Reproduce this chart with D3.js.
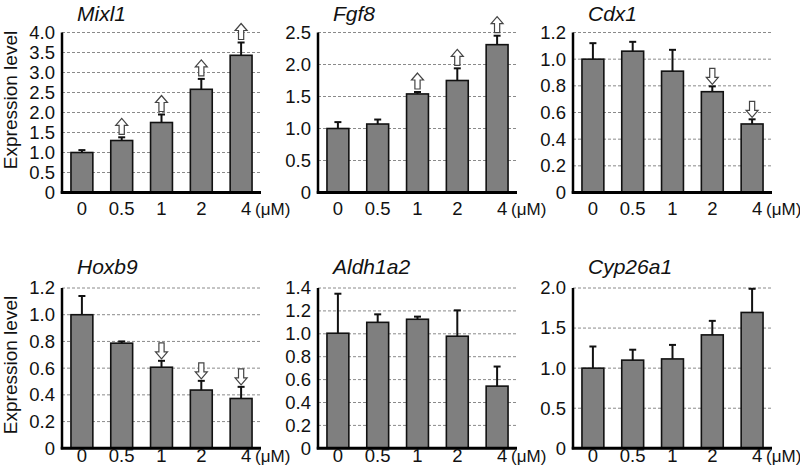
<!DOCTYPE html>
<html>
<head>
<meta charset="utf-8">
<script src="https://cdn.jsdelivr.net/npm/d3@7"></script>
<style>
  body { margin: 0; background: #fff; }
  svg { font-family: Arial, "Liberation Sans", sans-serif; }
</style>
</head>
<body>
<svg width="800" height="474"></svg>
<script>
// doses (uM)
const doses = ["0", "0.5", "1", "2", "4"];

// mean expression + upper error
const mixl1 = [1.00, 1.30, 1.75, 2.58, 3.43];
const mixl1Err = [0.06, 0.08, 0.20, 0.26, 0.32];
const fgf8 = [1.00, 1.07, 1.54, 1.75, 2.31];
const fgf8Err = [0.10, 0.07, 0.03, 0.19, 0.14];
const cdx1 = [1.00, 1.06, 0.91, 0.756, 0.514];
const cdx1Err = [0.12, 0.07, 0.16, 0.04, 0.035];
const hoxb9 = [1.00, 0.787, 0.607, 0.436, 0.373];
const hoxb9Err = [0.14, 0.013, 0.048, 0.069, 0.087];
const aldh1a2 = [1.005, 1.10, 1.127, 0.979, 0.543];
const aldh1a2Err = [0.345, 0.07, 0.023, 0.226, 0.171];
const cyp26a1 = [1.00, 1.10, 1.115, 1.415, 1.695];
const cyp26a1Err = [0.27, 0.13, 0.175, 0.175, 0.295];

// significant changes: +1 up arrow, -1 down arrow, 0 none
const mixl1Arrows = [0, 1, 1, 1, 1];
const fgf8Arrows = [0, 0, 1, 1, 1];
const cdx1Arrows = [0, 0, 0, -1, -1];
const hoxb9Arrows = [0, 0, -1, -1, -1];
const aldh1a2Arrows = [0, 0, 0, 0, 0];
const cyp26a1Arrows = [0, 0, 0, 0, 0];

const yMaxes = [4.0, 2.5, 1.2, 1.2, 1.4, 2.0];
const ySteps = [0.5, 0.5, 0.2, 0.2, 0.2, 0.5];

const panels = [
  { title: "Mixl1", values: mixl1, err: mixl1Err, arrows: mixl1Arrows, col: 0, row: 0 },
  { title: "Fgf8", values: fgf8, err: fgf8Err, arrows: fgf8Arrows, col: 1, row: 0 },
  { title: "Cdx1", values: cdx1, err: cdx1Err, arrows: cdx1Arrows, col: 2, row: 0 },
  { title: "Hoxb9", values: hoxb9, err: hoxb9Err, arrows: hoxb9Arrows, col: 0, row: 1 },
  { title: "Aldh1a2", values: aldh1a2, err: aldh1a2Err, arrows: aldh1a2Arrows, col: 1, row: 1 },
  { title: "Cyp26a1", values: cyp26a1, err: cyp26a1Err, arrows: cyp26a1Arrows, col: 2, row: 1 }
];

const svg = d3.select("svg");

const colX = [62, 318, 573];
const plotW = 199;
const rows = [
  { top: 32.5, bottom: 192.5, titleY: 21, labelY: 215, ylabelY: 100 },
  { top: 288, bottom: 448.3, titleY: 274, labelY: 462, ylabelY: 365 }
];

// block arrow, tip at (0,0), pointing up
const arrowPath = "M0,0 L6,7 L2.6,7 L2.6,16 L-2.6,16 L-2.6,7 L-6,7 Z";

panels.forEach((p, pi) => {
  const ax = colX[p.col];
  const r = rows[p.row];

  const x = d3.scaleBand()
    .domain(doses)
    .range([ax, ax + plotW])
    .paddingInner(0.45)
    .paddingOuter(0.225);

  const y = d3.scaleLinear()
    .domain([0, yMaxes[pi]])
    .range([r.bottom, r.top]);

  const ticks = d3.range(0, yMaxes[pi] + 1e-9, ySteps[pi]);
  const g = svg.append("g");

  // dashed gridlines
  g.selectAll(".grid")
    .data(ticks.slice(1))
    .enter().append("line")
    .attr("x1", ax)
    .attr("x2", ax + plotW)
    .attr("y1", d => y(d))
    .attr("y2", d => y(d))
    .attr("stroke", "#8a8a8a")
    .attr("stroke-width", 1)
    .attr("stroke-dasharray", "3,2");

  // y axis
  const yAxis = g.append("g")
    .attr("transform", `translate(${ax},0)`)
    .call(d3.axisLeft(y)
      .tickValues(ticks)
      .tickSize(0)
      .tickPadding(7)
      .tickFormat(d => d === 0 ? "0" : d3.format(".1f")(d)));
  yAxis.select(".domain").remove();
  yAxis.selectAll("text")
    .style("font-size", "18.5px")
    .attr("fill", "#111");

  // error bars (upper only)
  g.selectAll(".err")
    .data(p.values)
    .enter().append("line")
    .attr("x1", (d, i) => x(doses[i]) + x.bandwidth() / 2)
    .attr("x2", (d, i) => x(doses[i]) + x.bandwidth() / 2)
    .attr("y1", d => y(d))
    .attr("y2", (d, i) => y(d + p.err[i]))
    .attr("stroke", "#111")
    .attr("stroke-width", 2);

  g.selectAll(".cap")
    .data(p.values)
    .enter().append("line")
    .attr("x1", (d, i) => x(doses[i]) + x.bandwidth() / 2 - 3.5)
    .attr("x2", (d, i) => x(doses[i]) + x.bandwidth() / 2 + 3.5)
    .attr("y1", (d, i) => y(d + p.err[i]))
    .attr("y2", (d, i) => y(d + p.err[i]))
    .attr("stroke", "#111")
    .attr("stroke-width", 2);

  // bars
  g.selectAll(".bar")
    .data(p.values)
    .enter().append("rect")
    .attr("x", (d, i) => x(doses[i]))
    .attr("y", d => y(d))
    .attr("width", x.bandwidth())
    .attr("height", d => y(0) - y(d))
    .attr("fill", "#7f7f7f")
    .attr("stroke", "#111")
    .attr("stroke-width", 1.6);

  // axis lines
  g.append("line")
    .attr("x1", ax).attr("x2", ax)
    .attr("y1", y(0) + 1).attr("y2", y(yMaxes[pi]))
    .attr("stroke", "#000")
    .attr("stroke-width", 2.5);
  g.append("line")
    .attr("x1", ax - 1.25).attr("x2", ax + plotW)
    .attr("y1", y(0)).attr("y2", y(0))
    .attr("stroke", "#000")
    .attr("stroke-width", 3);

  // arrows
  g.selectAll(".arrow")
    .data(p.arrows.map((a, i) => ({ a: a, i: i })).filter(d => d.a !== 0))
    .enter().append("path")
    .attr("d", arrowPath)
    .attr("transform", d => {
      const cx = x(doses[d.i]) + x.bandwidth() / 2;
      const top = y(p.values[d.i] + p.err[d.i]);
      return d.a > 0
        ? `translate(${cx},${top - 19})`
        : `translate(${cx},${top - 2}) scale(1,-1)`;
    })
    .attr("fill", "#fff")
    .attr("stroke", "#444")
    .attr("stroke-width", 1.2);

  // x labels
  g.selectAll(".xl")
    .data(doses)
    .enter().append("text")
    .attr("x", d => x(d) + x.bandwidth() / 2 + (d === "4" ? 5 : 0))
    .attr("y", r.labelY)
    .attr("text-anchor", "middle")
    .style("font-size", "18.5px")
    .attr("fill", "#111")
    .text(d => d);

  g.append("text")
    .attr("x", x("4") + x.bandwidth() / 2 + 14)
    .attr("y", r.labelY)
    .style("font-size", "17px")
    .attr("fill", "#111")
    .text("(\u03bcM)");

  // title
  g.append("text")
    .attr("x", ax + 15)
    .attr("y", r.titleY)
    .style("font-size", "21px")
    .style("font-style", "italic")
    .attr("fill", "#111")
    .text(p.title);

  // y label on first column
  if (p.col === 0) {
    g.append("text")
      .attr("transform", `translate(17,${r.ylabelY}) rotate(-90)`)
      .attr("text-anchor", "middle")
      .style("font-size", "19px")
      .attr("fill", "#111")
      .text("Expression level");
  }
});
</script>
</body>
</html>
